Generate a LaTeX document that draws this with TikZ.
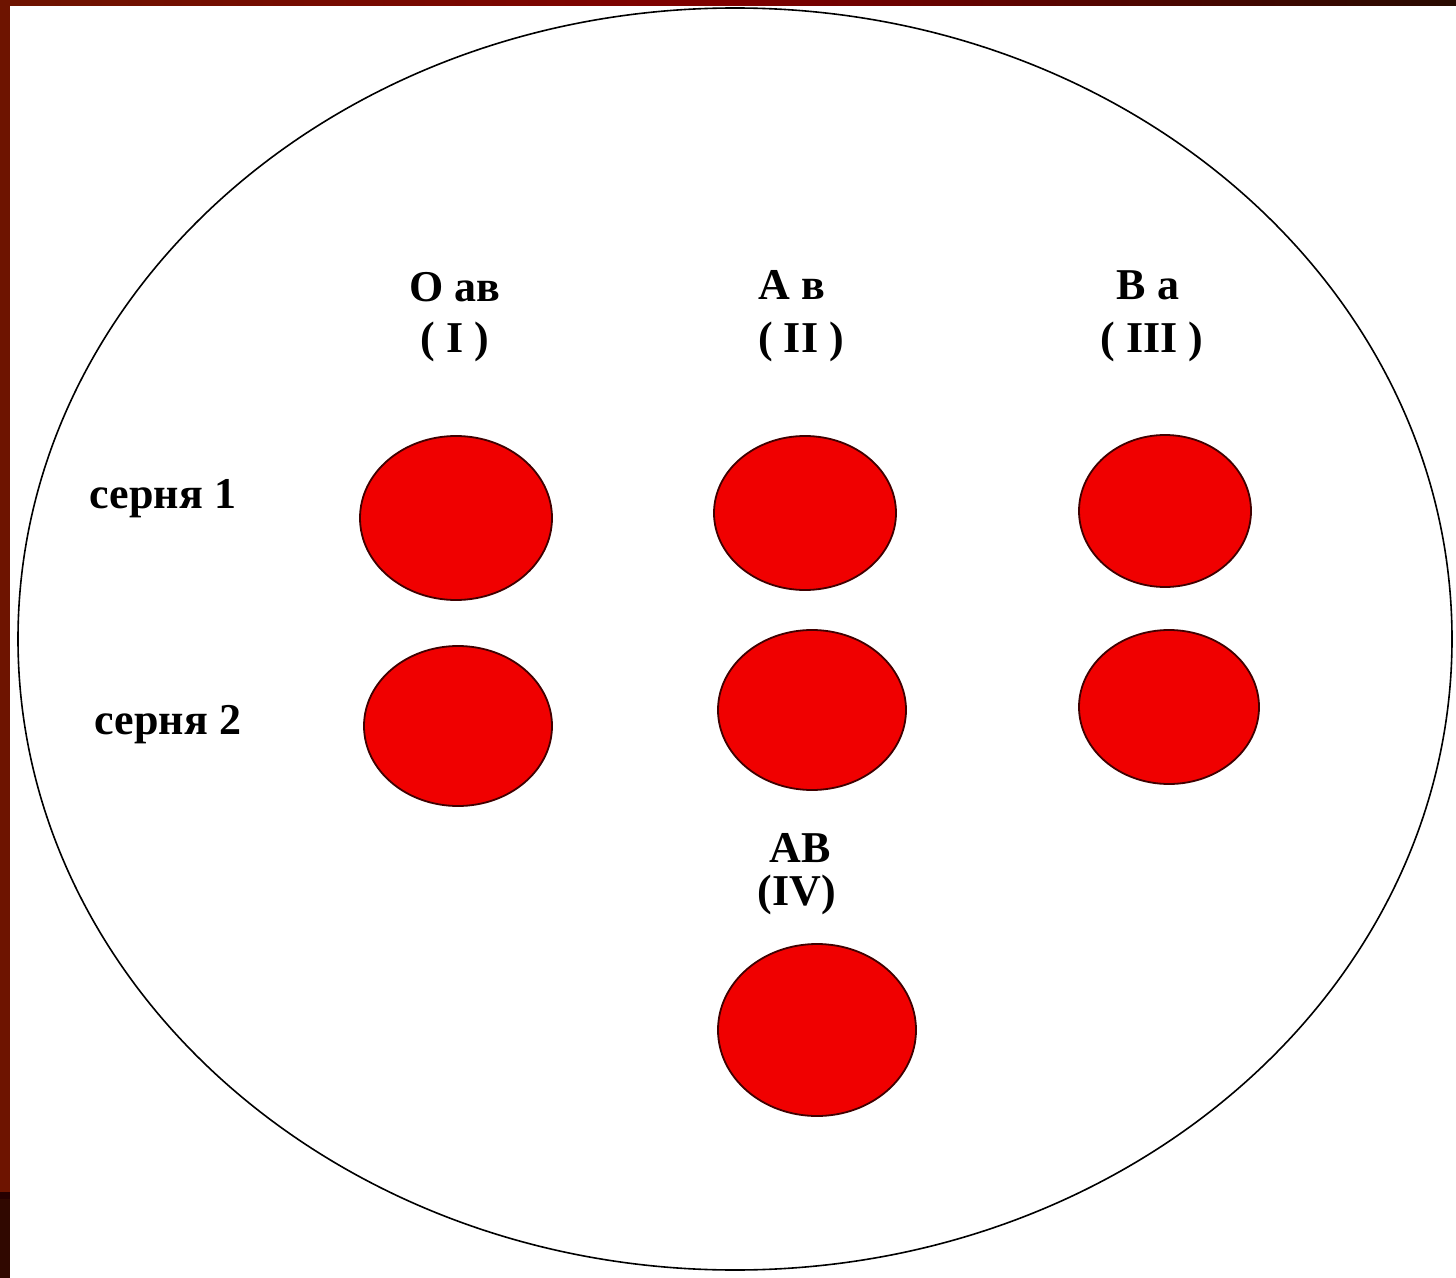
\documentclass[tikz,border=0pt]{standalone}
\usepackage{fontspec}
\setmainfont{Liberation Serif}
\usetikzlibrary{shapes.geometric}
\definecolor{frameA}{RGB}{110,20,0}
\definecolor{frameB}{RGB}{128,0,0}
\definecolor{frameC}{RGB}{40,10,0}
\definecolor{frameD}{RGB}{48,8,0}
\definecolor{dropred}{RGB}{240,0,0}
\begin{document}
\begin{tikzpicture}[x=0.5pt,y=-0.5pt,
  drop/.style={ellipse, fill=dropred, draw=black!75!red, line width=0.9pt, inner sep=0pt},
  lbl/.style={font=\fontsize{22}{24}\selectfont\bfseries, inner sep=0pt, align=center}]
\useasboundingbox (0,0) rectangle (1456,1278);
\fill[white] (0,0) rectangle (1456,1278);
% frame strips
\shade[left color=frameA, right color=frameC, middle color=frameB] (0,0) rectangle (1456,6);
\fill[frameA] (0,0) rectangle (10,1195);
\fill[black!85!red] (0,1192) rectangle (10,1199);
\fill[frameD] (0,1199) rectangle (10,1278);
% dish
\node[draw=black, line width=0.8pt, ellipse, minimum width=717pt, minimum height=631pt, inner sep=0pt] (dish) at (735,639) {};
% drops
\node[drop, minimum width=96pt, minimum height=82pt] (c1) at (456,518) {};
\node[drop, minimum width=91pt, minimum height=77pt] (c2) at (805,513) {};
\node[drop, minimum width=86pt, minimum height=76pt] (c3) at (1165,511) {};
\node[drop, minimum width=94pt, minimum height=80pt] (c4) at (458,726) {};
\node[drop, minimum width=94pt, minimum height=80pt] (c5) at (812,710) {};
\node[drop, minimum width=90pt, minimum height=77pt] (c6) at (1169,707) {};
\node[drop, minimum width=99pt, minimum height=86pt] (c7) at (817,1030) {};
% labels
\node[lbl] (t1) at (455,287) {О ав};
\node[lbl] (r1) at (455,342) {( I )};
\node[lbl] (t2) at (792,285) {А в};
\node[lbl] (r2) at (801,342) {( II )};
\node[lbl] (t3) at (1148,285) {В а};
\node[lbl] (r3) at (1152,342) {( III )};
\node[lbl] (s1) at (163,499) {серня 1};
\node[lbl] (s2) at (168,725) {серня 2};
\node[lbl] (t4) at (800,848) {АВ};
\node[lbl] (r4) at (797,895) {(IV)};
\end{tikzpicture}
\end{document}
